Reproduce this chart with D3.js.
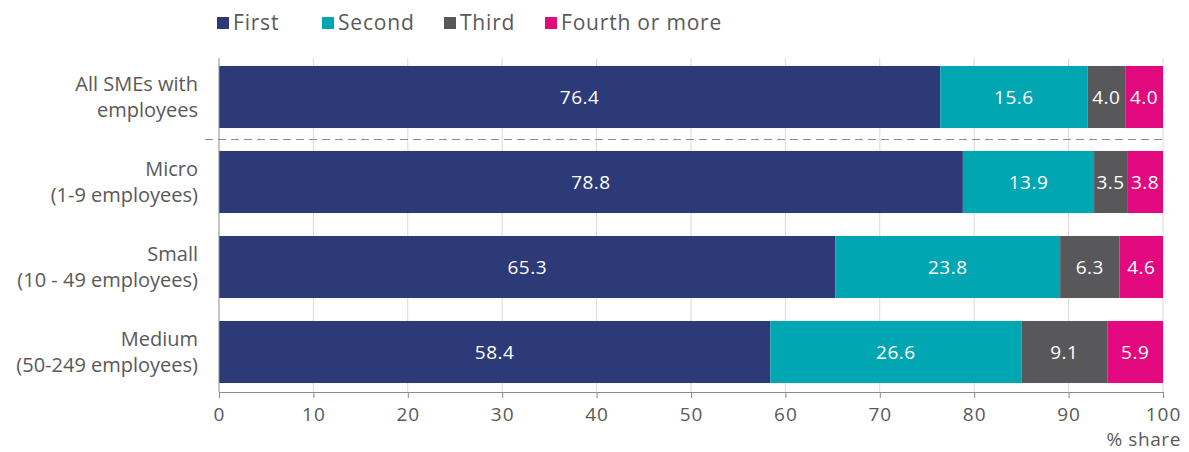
<!DOCTYPE html>
<meta charset="utf-8">
<style>
    body { margin: 0; background: #fff; font-family: 'Open Sans', sans-serif; }
    .lbl { fill: #595959; font-size: 20px; }
    .val { fill: #fff; font-size: 19px; letter-spacing: 0.5px; }
</style>
<body>
<svg id="chart" width="1189" height="452"></svg>
<script src="https://cdn.jsdelivr.net/npm/d3@7"></script>
<script>
var categories = [
    ["All SMEs with", "employees"],
    ["Micro", "(1-9 employees)"],
    ["Small", "(10 - 49 employees)"],
    ["Medium", "(50-249 employees)"]
];
var seriesNames = ["First", "Second", "Third", "Fourth or more"];
var first = [76.4, 78.8, 65.3, 58.4];
var second = [15.6, 13.9, 23.8, 26.6];
var third = [4.0, 3.5, 6.3, 9.1];
var fourth = [4.0, 3.8, 4.6, 5.9];
var ticks = [0, 10, 20, 30, 40, 50, 60, 70, 80, 90, 100];
var colors = ["#2c3b78", "#00a6b1", "#58585a", "#e2097f"];

var svg = d3.select("#chart");
var keys = categories.map(function (c, i) { return "c" + i; });

var x = d3.scaleLinear().domain([0, 100]).range([219, 1163]);
var y = d3.scaleBand().domain(keys).range([54.5, 394.5])
    .paddingInner(0.27).paddingOuter(0.135);

var rows = keys.map(function (k, i) {
    return { key: k, First: first[i], Second: second[i], Third: third[i], "Fourth or more": fourth[i] };
});
var stacked = d3.stack().keys(seriesNames)(rows);

// gridlines
svg.append("g").selectAll("line").data(ticks.slice(1)).enter().append("line")
    .attr("x1", function (d) { return x(d); }).attr("x2", function (d) { return x(d); })
    .attr("y1", 58).attr("y2", 392)
    .attr("stroke", "#d9d9d9").attr("stroke-width", 1);

// bars
var layers = svg.append("g").selectAll("g").data(stacked).enter().append("g")
    .attr("fill", function (d, i) { return colors[i]; });
layers.selectAll("rect").data(function (d) { return d; }).enter().append("rect")
    .attr("x", function (d) { return x(d[0]); })
    .attr("y", function (d) { return y(d.data.key); })
    .attr("width", function (d) { return x(d[1]) - x(d[0]); })
    .attr("height", y.bandwidth());

layers.selectAll("text").data(function (d) { return d; }).enter().append("text")
    .attr("class", "val")
    .attr("text-anchor", "middle")
    .attr("dominant-baseline", "central")
    .attr("x", function (d) { return (x(d[0]) + x(d[1])) / 2; })
    .attr("y", function (d) { return y(d.data.key) + y.bandwidth() / 2; })
    .text(function (d) { return (d[1] - d[0]).toFixed(1); });

// dashed separator
var sepY = (y(keys[0]) + y.bandwidth() + y(keys[1])) / 2;
svg.append("line")
    .attr("x1", 205).attr("x2", x(100))
    .attr("y1", sepY).attr("y2", sepY)
    .attr("stroke", "#8c8c8c").attr("stroke-dasharray", "8,5");

// left axis line
svg.append("line").attr("x1", x(0)).attr("x2", x(0)).attr("y1", 58).attr("y2", 392)
    .attr("stroke", "#8c8c8c");

// x axis
var xAxis = svg.append("g").attr("transform", "translate(0,392)")
    .call(d3.axisBottom(x).tickValues(ticks).tickSize(6).tickPadding(10));
xAxis.select(".domain").attr("stroke", "#8c8c8c");
xAxis.selectAll("line").attr("stroke", "#8c8c8c");
xAxis.selectAll("text").attr("class", "lbl").style("font-size", "19px")
    .style("letter-spacing", "1px").style("font-family", "'Open Sans', sans-serif");

svg.append("text").attr("class", "lbl").attr("text-anchor", "end")
    .attr("x", 1181).attr("y", 446).style("font-size", "19px")
    .style("letter-spacing", "0.6px").text("% share");

// category labels
categories.forEach(function (c, i) {
    var cy = y(keys[i]) + y.bandwidth() / 2;
    var t = svg.append("text").attr("class", "lbl").attr("text-anchor", "end")
        .attr("x", 198).attr("y", cy - 6);
    t.append("tspan").attr("x", 198).text(c[0]);
    t.append("tspan").attr("x", 198).attr("dy", 26).text(c[1]);
});

// legend
var legendX = [217, 322, 444, 545];
seriesNames.forEach(function (s, i) {
    svg.append("rect").attr("x", legendX[i]).attr("y", 17).attr("width", 12).attr("height", 12)
        .attr("fill", colors[i]);
    svg.append("text").attr("class", "lbl").attr("x", legendX[i] + 16).attr("y", 30)
        .style("font-size", "21px").style("letter-spacing", "0.8px").text(s);
});
</script>
</body>
